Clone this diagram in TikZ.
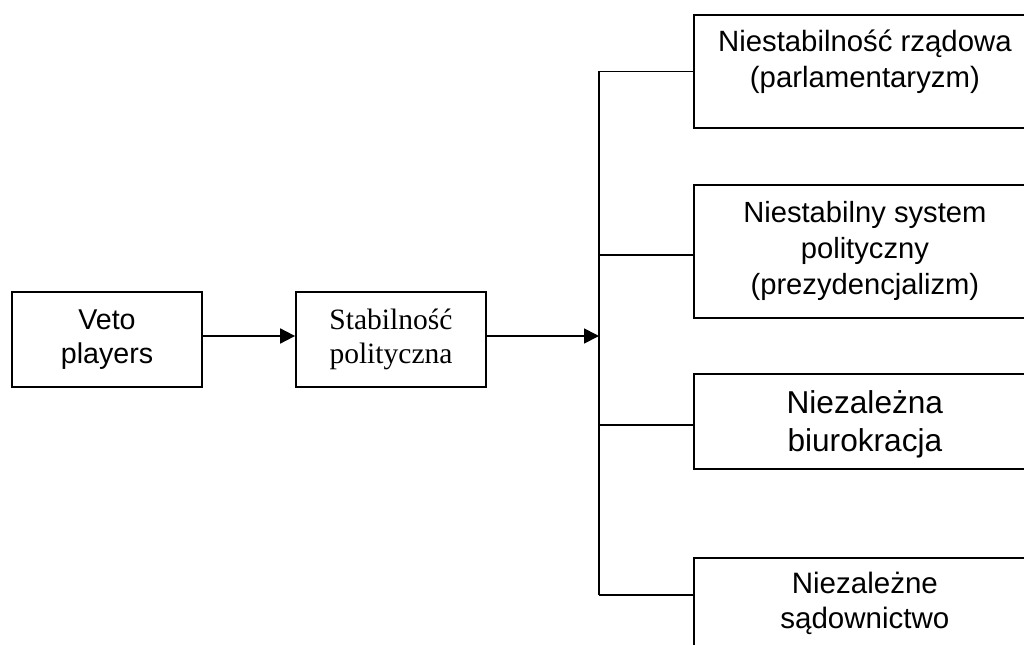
\documentclass[tikz,border=0pt]{standalone}
\usepackage{fontspec}
\setmainfont{Liberation Sans}
\newfontfamily\serifface{Liberation Serif}
\usetikzlibrary{arrows.meta, positioning}
\tikzset{
  every picture/.style={line width=1pt},
  box/.style={draw, align=center, inner sep=2pt, minimum width=3.8cm, minimum height=1.9cm},
  rbox/.style={draw, anchor=north west, minimum width=6.84cm},
  arrow/.style={-{Triangle[length=3mm, width=3mm]}},
  boxtext/.style={anchor=north, inner sep=0pt, align=center},
}

\begin{document}
\begin{tikzpicture}
  \useasboundingbox (0,0) rectangle (20.48,-12.9);
  \clip (0,0) rectangle (20.48,-12.9);
  \node[box, font=\fontsize{16.3}{19.2}\selectfont] (veto) at (2.14,-6.79) {Veto\\players};
  \node[box, font=\serifface\fontsize{16.8}{19}\selectfont] (stab) at (7.82,-6.79) {Stabilność\\polityczna};
  % outcomes
  \node[rbox, minimum height=2.26cm, label={[boxtext, yshift=-0.3cm, font=\fontsize{16.7}{20.5}\selectfont]north:{Niestabilność rządowa\\(parlamentaryzm)}}] (gov) at (13.86,-0.28) {};
  \node[rbox, minimum height=2.66cm, label={[boxtext, yshift=-0.32cm, font=\fontsize{16.6}{20.5}\selectfont]north:{Niestabilny system\\polityczny\\(prezydencjalizm)}}] (sys) at (13.86,-3.68) {};
  \node[rbox, minimum height=1.9cm, label={[boxtext, yshift=-0.34cm, font=\fontsize{18}{21.5}\selectfont]north:{Niezależna\\biurokracja}}] (bur) at (13.86,-7.46) {};
  \node[rbox, minimum height=2.5cm, label={[boxtext, yshift=-0.28cm, font=\fontsize{16.8}{20}\selectfont]north:{Niezależne\\sądownictwo}}] (court) at (13.86,-11.14) {};
  \coordinate (tr) at (11.98,-6.72);
  \coordinate (j2) at ([yshift=-0.07cm]sys.west);
  \coordinate (j3) at ([yshift=-0.07cm]bur.west);
  \coordinate (j4) at ([yshift=-0.76cm]court.north west);
  \draw[arrow] ([yshift=0.07cm]veto.east) -- ([yshift=0.07cm]stab.west);
  \draw[arrow] ([yshift=0.07cm]stab.east) -- (tr);
  \draw (gov.west -| tr) -- (j4 -| tr);
  \draw (gov.west) -- (gov.west -| tr);
  \draw (j2) -- (j2 -| tr);
  \draw (j3) -- (j3 -| tr);
  \draw (j4) -- (j4 -| tr);
\end{tikzpicture}
\end{document}
